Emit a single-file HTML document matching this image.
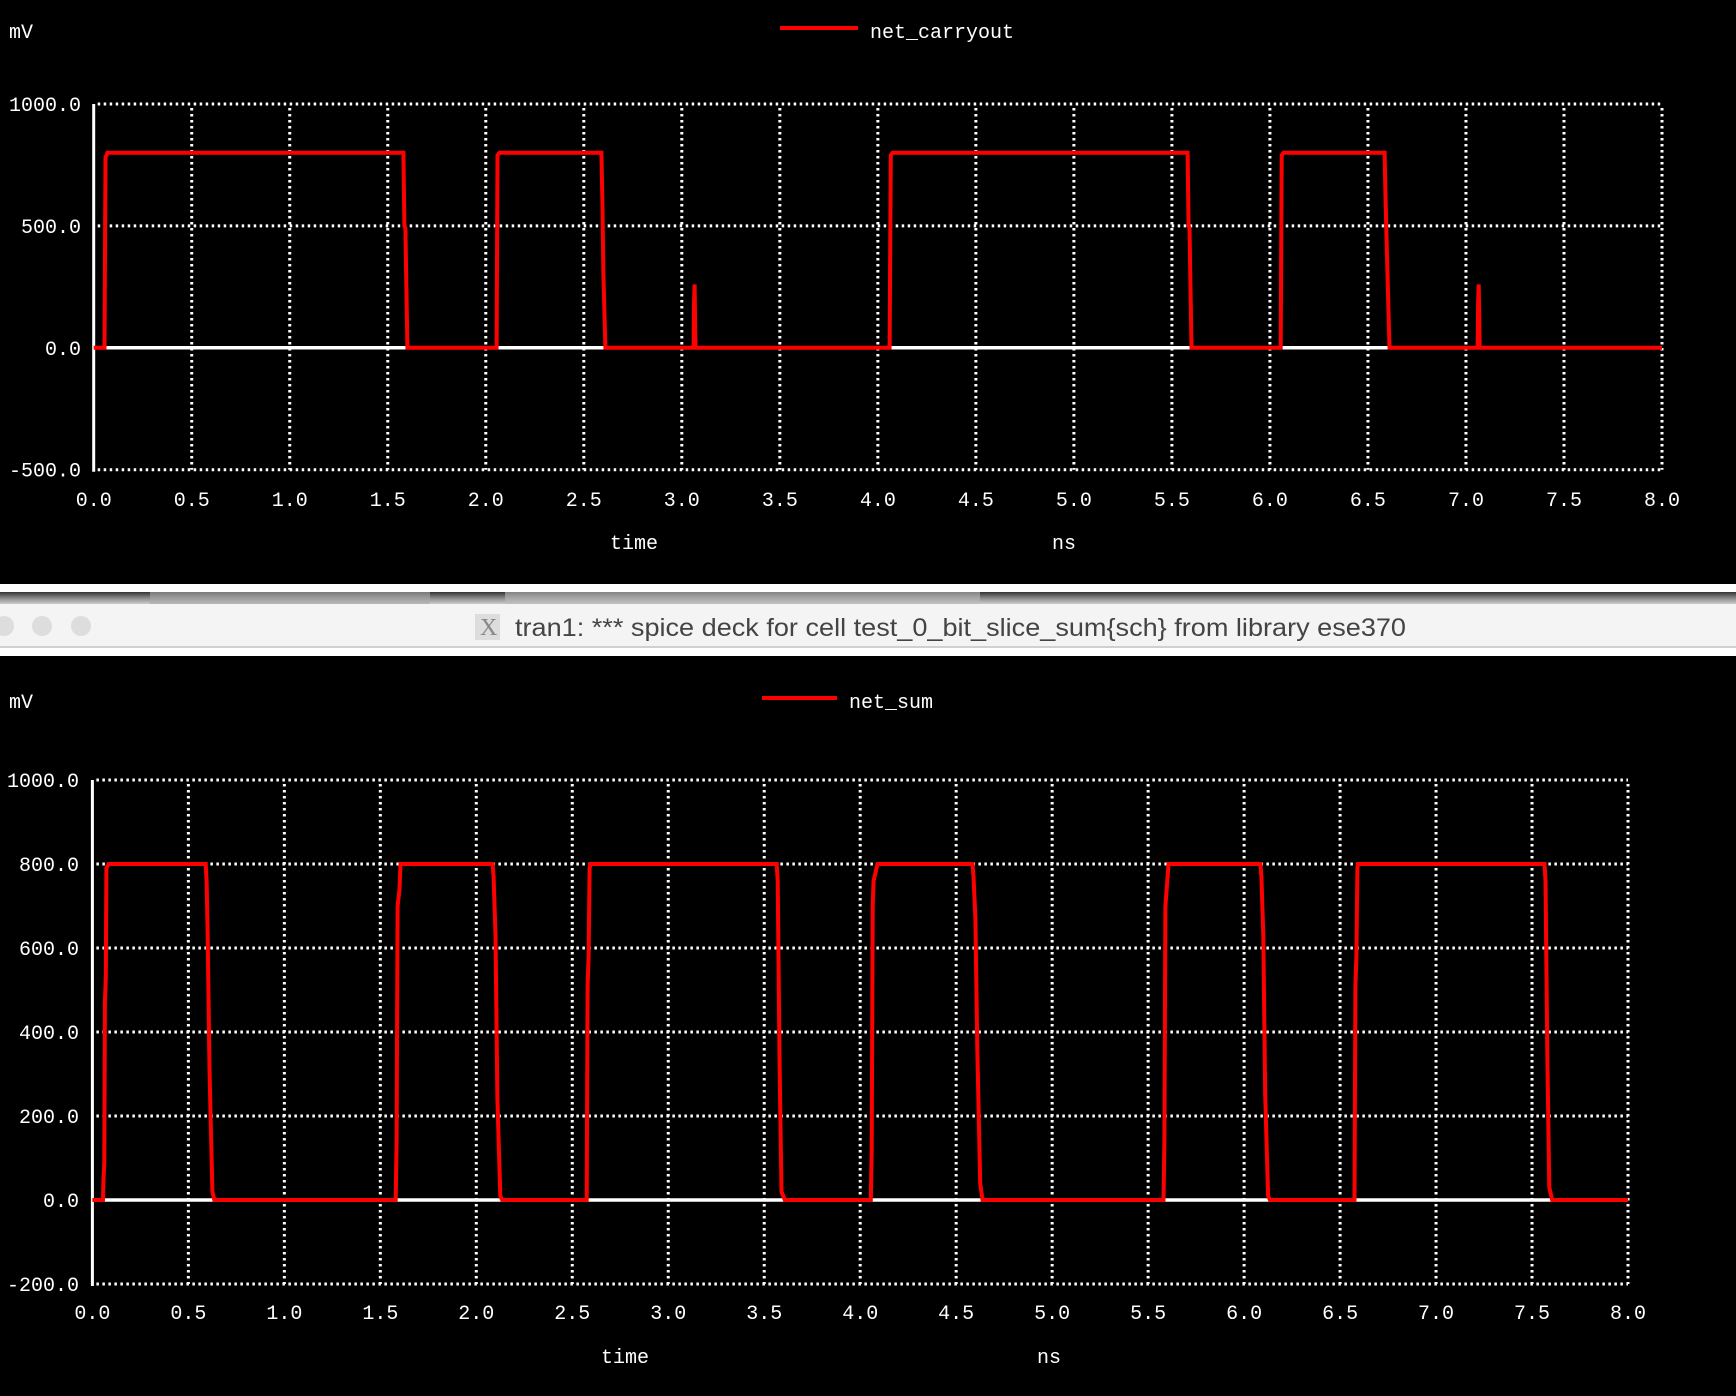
<!DOCTYPE html>
<html><head><meta charset="utf-8"><style>
html,body{margin:0;padding:0;background:#000;}
body{width:1736px;height:1396px;overflow:hidden;position:relative;}
svg{position:absolute;left:0;top:0;}
text{font-family:"Liberation Mono",monospace;fill:#fff;font-size:20px;}
</style></head><body>
<svg id="s" width="1736" height="1396" viewBox="0 0 1736 1396">
<rect x="0" y="0" width="1736" height="1396" fill="#000"/>
<g>
<rect x="0" y="584" width="1736" height="8" fill="#fff"/>
<defs><linearGradient id="gb" x1="0" y1="0" x2="0" y2="1"><stop offset="0" stop-color="#333"/><stop offset="0.5" stop-color="#888"/><stop offset="1" stop-color="#ccc"/></linearGradient></defs>
<rect x="0" y="592" width="1736" height="12" fill="url(#gb)"/>
<rect x="150" y="592" width="280" height="12" fill="#aaa" opacity="0.6"/>
<rect x="505" y="592" width="475" height="12" fill="#bbb" opacity="0.6"/>
<rect x="0" y="604" width="1736" height="42" fill="#f4f4f4"/>
<rect x="0" y="646" width="1736" height="2" fill="#d0d0d0"/>
<rect x="0" y="648" width="1736" height="8" fill="#fff"/>
<circle cx="4" cy="626" r="10" fill="#ddd"/>
<circle cx="42" cy="626" r="10" fill="#ddd"/>
<circle cx="81" cy="626" r="10" fill="#ddd"/>
<rect x="475" y="614" width="25" height="26" fill="#ddd"/>
<text x="480" y="635" style="font-family:'Liberation Serif',serif;font-size:24px;fill:#888">X</text>
<text x="515" y="636" textLength="891" lengthAdjust="spacingAndGlyphs" style="font-family:'Liberation Sans',sans-serif;font-size:25px;fill:#444">tran1: *** spice deck for cell test_0_bit_slice_sum{sch} from library ese370</text>
</g>
</svg>
<script>
const xTicks=[0,0.5,1,1.5,2,2.5,3,3.5,4,4.5,5,5.5,6,6.5,7,7.5,8];
const topYTicks=[1000,500,0,-500];
const botYTicks=[1000,800,600,400,200,0,-200];
const carryT=[0,0.055,0.06,0.066,0.07,1.58,1.585,1.59,1.6,2.055,2.06,2.07,2.59,2.595,2.6,2.61,3.06,3.062,3.065,3.068,3.07,3.075,4.06,4.066,4.075,5.58,5.585,5.59,5.6,6.055,6.06,6.07,6.585,6.59,6.6,6.61,7.06,7.062,7.065,7.068,7.07,7.075,8.0];
const carryV=[0,0,780,790,800,800,500,490,0,0,790,800,800,600,300,0,0,180,260,100,0,0,0,790,800,800,500,490,0,0,790,800,800,600,300,0,0,180,260,100,0,0,0];
const sumT=[0,0.055,0.058,0.062,0.065,0.07,0.073,0.085,0.59,0.595,0.6,0.61,0.625,0.635,1.58,1.585,1.59,1.6,1.605,2.085,2.09,2.1,2.11,2.125,2.135,2.575,2.58,2.585,2.59,2.595,3.565,3.57,3.58,3.59,3.607,4.055,4.06,4.065,4.07,4.09,4.585,4.59,4.6,4.61,4.625,4.637,5.58,5.585,5.59,5.6,5.606,6.085,6.09,6.1,6.11,6.125,6.135,6.575,6.58,6.585,6.59,6.593,7.565,7.57,7.58,7.59,7.605,8.0];
const sumV=[0,0,50,90,470,530,790,800,800,760,640,310,20,0,0,140,700,740,800,800,770,630,240,10,0,0,510,580,790,800,800,760,320,20,0,0,120,700,760,800,800,770,670,360,40,0,0,140,700,760,800,800,770,630,250,10,0,0,510,580,790,800,800,760,330,30,0,0];

const NS='http://www.w3.org/2000/svg';
const svg=document.getElementById('s');
function mk(tag,attrs,parent){const e=document.createElementNS(NS,tag);for(const k in attrs)e.setAttribute(k,attrs[k]);(parent||svg).appendChild(e);return e;}

function chart(cfg){
  const g=mk('g',{});
  
  
  const X=t=>cfg.x0+(t-0)*(cfg.x1-cfg.x0)/8;
  const Y=v=>cfg.yZero-v*cfg.pxPerMv;
  const yMax=cfg.yTicks[0], yMin=cfg.yTicks[cfg.yTicks.length-1];
  cfg.yTicks.forEach(v=>{
    const l=mk('line',{x1:cfg.x0+4,x2:cfg.x1,y1:Y(v),y2:Y(v),stroke:'#fff','stroke-width':3,'stroke-dasharray':'2.5 3.5'},g);
    
    
    const t=mk('text',{x:cfg.labelRight,y:Y(v)+7,'text-anchor':'end'},g);
    t.textContent=v.toFixed(1);
    
    
  });
  xTicks.forEach(tk=>{
    if(tk>0){
      const l=mk('line',{x1:X(tk),x2:X(tk),y1:Y(yMax)+4,y2:Y(yMin),stroke:'#fff','stroke-width':3,'stroke-dasharray':'2.5 3.5'},g);
      
      
    }
    const t=mk('text',{x:X(tk),y:cfg.xLabelY+7,'text-anchor':'middle'},g);
    t.textContent=tk.toFixed(1);
    
    
  });
  const ax=mk('line',{x1:cfg.x0,x2:cfg.x0,y1:Y(yMax),y2:Y(yMin)+2,stroke:'#fff','stroke-width':3},g);
  
  
  const zl=mk('line',{x1:cfg.x0,x2:cfg.x1,y1:Y(0),y2:Y(0),stroke:'#fff','stroke-width':3.5},g);
  
  
  const pts=cfg.t.map((t,i)=>X(t).toFixed(1)+','+Y(cfg.v[i]).toFixed(1)).join(' ');
  const pl=mk('polyline',{points:pts,fill:'none',stroke:'#ff0000','stroke-width':4,'stroke-linejoin':'miter'},g);
  
  
  const mv=mk('text',{x:9,y:cfg.mvY+7},g);
  mv.textContent='mV';
  
  
  const tm=mk('text',{x:cfg.timeX,y:cfg.bottomY+7,'text-anchor':'middle'},g);
  tm.textContent='time';
  
  
  const ns=mk('text',{x:cfg.nsX,y:cfg.bottomY+7,'text-anchor':'middle'},g);
  ns.textContent='ns';
  
  
  const lg=mk('g',{},g);
  
  
  mk('line',{x1:cfg.legX1,x2:cfg.legX2,y1:cfg.legY,y2:cfg.legY,stroke:'#ff0000','stroke-width':4},lg);
  const lt=mk('text',{x:cfg.legX2+12,y:cfg.legY+10},lg);
  lt.textContent=cfg.series;
  
  
}
chart({name:'carryout-chart',series:'net_carryout',x0:93.7,x1:1662,yZero:347.8,pxPerMv:0.2438,yTicks:topYTicks,t:carryT,v:carryV,labelRight:81,xLabelY:499,mvY:31,timeX:634,nsX:1064,bottomY:542,legX1:780,legX2:858,legY:28});
chart({name:'sum-chart',series:'net_sum',x0:92.4,x1:1628,yZero:1200,pxPerMv:0.42,yTicks:botYTicks,t:sumT,v:sumV,labelRight:79,xLabelY:1312,mvY:701,timeX:625,nsX:1049,bottomY:1356,legX1:762,legX2:837,legY:698});
</script>
</body></html>
